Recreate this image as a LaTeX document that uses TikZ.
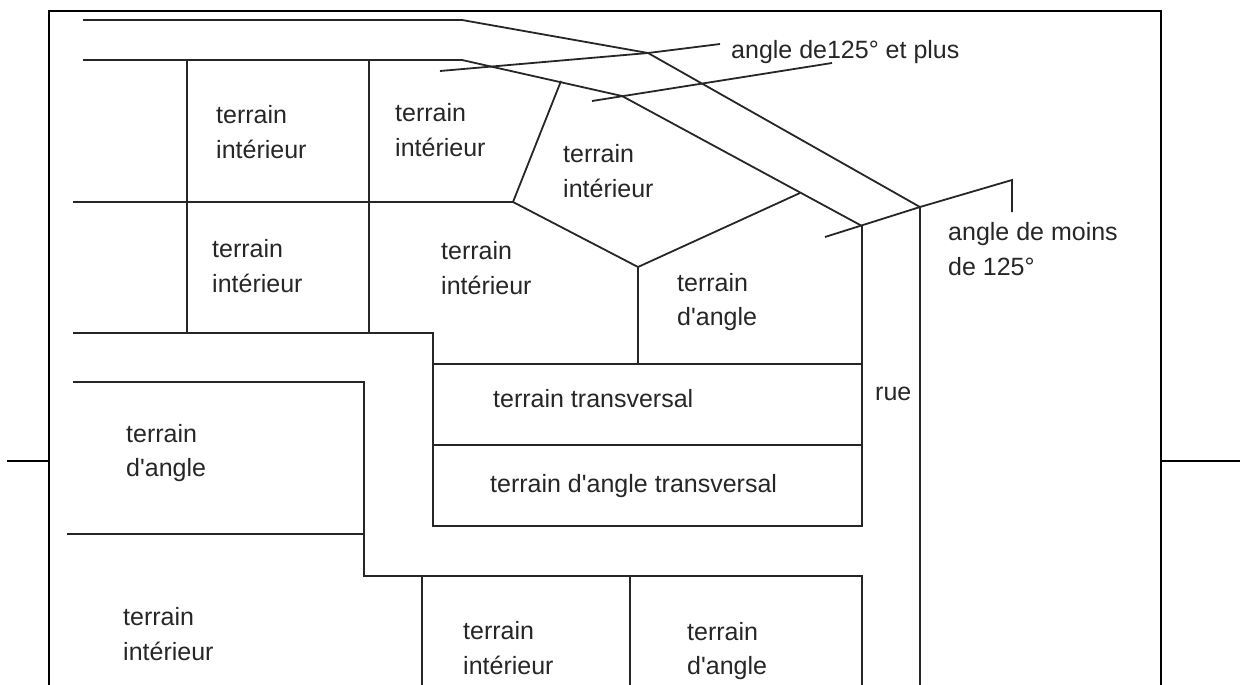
\documentclass[tikz,border=0pt]{standalone}
\usepackage{fontspec}
\newfontfamily\lotfont{Liberation Sans}
\usepackage{xcolor}
\usetikzlibrary{positioning}
\tikzset{
  lotline/.style={line width=1.8pt,black!85},
  framel/.style={line width=1.8pt,black},
  lot/.style={anchor=west,align=left,inner sep=0pt,text=black!85,
              font=\lotfont\fontsize{25}{34.5}\selectfont},
}
\begin{document}
\begin{tikzpicture}[x=1pt,y=-1pt]
  \useasboundingbox (0,0) rectangle (1255,685);
  % page frame
  \draw[framel,line width=2.8pt] (48,11)--(1162,11);
  \draw[framel] (49,11)--(49,685); \draw[framel] (1161,11)--(1161,685);
  \draw[framel] (7,461)--(49,461); \draw[framel] (1161,461)--(1240,461);
  % corners
  \coordinate (outA) at (648,53);
  \coordinate (outB) at (920,207);
  \coordinate (inA) at (622,96);
  \coordinate (inB) at (862,226);
  \coordinate (midL) at (513,202);
  \coordinate (midB) at (638,267);
  % street
  \draw[lotline] (83,20)--(462,20)--(outA)--(outB)--(920,685);
  \draw[lotline] (83,60)--(462,60)--(inA)--(inB)--(862,526)--(433,526)--(433,333)--(73,333);
  % angle marks
  \draw[lotline] (440,71)--(outA)--(720,44);
  \draw[lotline] (592,101)--(832,63);
  \draw[lotline] (825,237)--(outB)--(1012,180)--(1012,212);
  % upper lots
  \draw[lotline] (187,60)--(187,333);
  \draw[lotline] (369,60)--(369,333);
  \draw[lotline] (73,202)--(midL)--(561,81);
  \draw[lotline] (midL)--(midB)--(800,193);
  \draw[lotline] (midB)--(638,364);
  \draw[lotline] (433,364)--(862,364);
  \draw[lotline] (433,445)--(862,445);
  % lower lots
  \draw[lotline] (73,382)--(364,382)--(364,576)--(862,576)--(862,685);
  \draw[lotline] (67,534)--(364,534);
  \draw[lotline] (422,576)--(422,685);
  \draw[lotline] (630,576)--(630,685);
  % labels
  \node[lot] (lotA) at (216,132) {terrain\\intérieur};
  \node[lot] (lotB) at (395,130) {terrain\\intérieur};
  \node[lot] (lotC) at (563,171) {terrain\\intérieur};
  \node[lot] (lotD) at (212,266) {terrain\\intérieur};
  \node[lot] (lotE) at (441,268) {terrain\\intérieur};
  \node[lot] (lotF) at (677,302) {terrain\\d'angle};
  \node[lot] (lotG) at (126,453) {terrain\\d'angle};
  \node[lot] (lotH) at (123,634) {terrain\\intérieur};
  \node[lot] (lotI) at (463,648) {terrain\\intérieur};
  \node[lot] (lotJ) at (687,651) {terrain\\d'angle};
  \node[lot] (lotK) at (493,399) {terrain transversal};
  \node[lot] (lotL) at (490,486) {terrain d'angle transversal};
  \node[lot] (rue) at (875,394) {rue};
  \node[lot] (wide) at (731,52) {angle de125° et plus};
  \node[lot] (narrow) at (948,249) {angle de moins\\de 125°};
\end{tikzpicture}
\end{document}
